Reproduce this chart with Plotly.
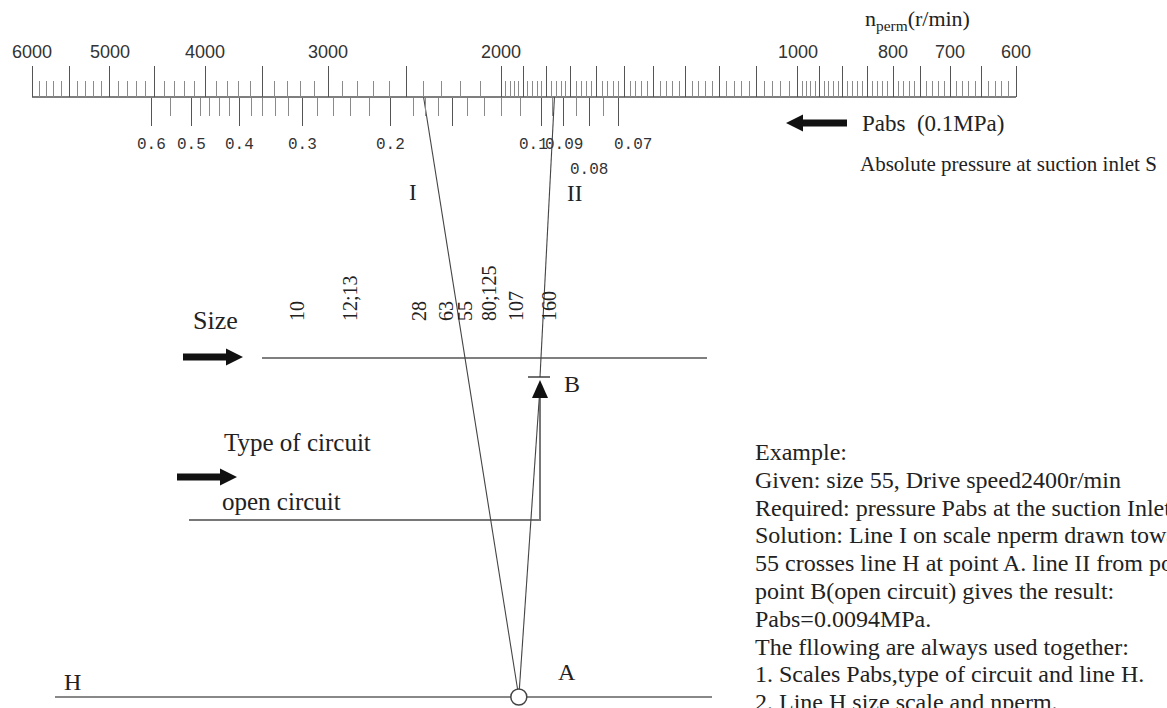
import numpy as np
import plotly.graph_objects as go

W, H = 1167, 708

# ---------------- data ----------------
# n_perm scale (r/min) – logarithmic, decreasing to the right
nperm_labels = [6000, 5000, 4000, 3000, 2000, 1000, 800, 700, 600]
# (low end, high end, minor step, major step)
nperm_segments = [(2000, 6000, 100, 500), (1000, 2000, 20, 100), (600, 1000, 10, 50)]

# Pabs scale (0.1 MPa) – logarithmic, decreasing to the right
pabs_major = [0.6, 0.5, 0.4, 0.3, 0.2, 0.15, 0.1, 0.09, 0.08, 0.07]
pabs_minor = [0.55, 0.48, 0.46, 0.44, 0.42, 0.38, 0.36, 0.34, 0.32, 0.28, 0.26,
              0.24, 0.22, 0.18, 0.17, 0.16, 0.14, 0.13, 0.12, 0.11, 0.095, 0.085, 0.075]
pabs_labels = [0.6, 0.5, 0.4, 0.3, 0.2, 0.1, 0.09, 0.08, 0.07]
pabs_label_text = ["0.6", "0.5", "0.4", "0.3", "0.2", "0.1", "0.09", "0.08", "0.07"]

# Size scale: labels and their reading along the scale
size_labels = ["10", "12;13", "28", "63", "55", "80;125", "107", "160"]
size_reading = [297, 350, 419, 446, 465, 489, 516, 549]
size_extra_ticks = [553]

# Type of circuit scale
circuit_labels = ["open circuit"]
circuit_reading = [540]

# Worked example
ex_size = "55"
ex_speed = 2400
ex_pabs = 0.094

example_lines = [
    "Example:",
    "Given: size 55, Drive speed2400r/min",
    "Required: pressure Pabs at the suction Inlet S",
    "Solution: Line I on scale nperm drawn towards size",
    "55 crosses line H at point A. line II from point A to",
    "point B(open circuit) gives the result:",
    "Pabs=0.0094MPa.",
    "The fllowing are always used together:",
    "1. Scales Pabs,type of circuit and line H.",
    "2. Line H,size scale and nperm.",
]

# ---------------- scale geometry ----------------
Y_TOP = 97      # n_perm / Pabs base line
Y_SIZE = 358    # size line
Y_B = 377
Y_OPEN = 520    # open-circuit line
Y_H = 697       # line H

N_REF, N_PX, N_DEC = 6000, 32, 984      # 6000 at px 32, 984 px per decade
P_REF, P_PX, P_DEC = 0.1, 541, 500      # 0.1 at px 541, 500 px per decade


def n_px(n):
    return N_PX + N_DEC * (np.log10(N_REF) - np.log10(n))


def p_px(p):
    return P_PX - P_DEC * (np.log10(p) - np.log10(P_REF))


x2_range = [np.log10(N_REF) + N_PX / N_DEC, np.log10(N_REF) - (W - N_PX) / N_DEC]
x3_range = [np.log10(P_REF) + P_PX / P_DEC, np.log10(P_REF) - (W - P_PX) / P_DEC]

nperm_major, nperm_minor = set(), set()
for lo, hi, mn, mj in nperm_segments:
    for v in range(lo, hi + 1, mn):
        (nperm_major if v % mj == 0 else nperm_minor).add(v)
nperm_minor -= nperm_major

SERIF = "Liberation Serif"
INK = "#222"
LINE = "#444"

fig = go.Figure()

# base lines
fig.add_trace(go.Scatter(x=[max(nperm_labels), min(nperm_labels)], y=[Y_TOP, Y_TOP],
                         xaxis="x2", yaxis="y", mode="lines",
                         line=dict(color="#555", width=1.6), hoverinfo="skip"))
fig.add_trace(go.Scatter(x=[262, 707], y=[Y_SIZE, Y_SIZE], mode="lines",
                         line=dict(color="#555", width=1.5), hoverinfo="skip"))
fig.add_trace(go.Scatter(x=[189, circuit_reading[0], circuit_reading[0]],
                         y=[Y_OPEN, Y_OPEN, Y_B + 18], mode="lines",
                         line=dict(color="#777", width=2), hoverinfo="skip"))
fig.add_trace(go.Scatter(x=[55, 712], y=[Y_H, Y_H], mode="lines",
                         line=dict(color="#888", width=2.2), hoverinfo="skip"))

# construction lines
si = size_labels.index(ex_size)
x_start = n_px(ex_speed)
x_size = size_reading[si]
ax_A = x_start + (x_size - x_start) * (Y_H - Y_TOP) / (Y_SIZE - Y_TOP)
bx = circuit_reading[0]
fig.add_trace(go.Scatter(x=[x_start, ax_A], y=[Y_TOP, Y_H], mode="lines",
                         line=dict(color=LINE, width=1.1), hoverinfo="skip"))
fig.add_trace(go.Scatter(x=[ax_A, bx], y=[Y_H, Y_B + 10], mode="lines",
                         line=dict(color=LINE, width=1.1), hoverinfo="skip"))
fig.add_trace(go.Scatter(x=[bx, p_px(ex_pabs)], y=[Y_B, Y_TOP], mode="lines",
                         line=dict(color=LINE, width=1.1), hoverinfo="skip"))
fig.add_trace(go.Scatter(x=[ax_A], y=[Y_H], mode="markers",
                         marker=dict(symbol="circle", size=16, color="white",
                                     line=dict(color="#444", width=1.5)),
                         hoverinfo="skip"))

shapes = []


def arrow(x0, x1, y, shaft=3.5, head_len=17, head_half=8.5):
    d = 1 if x1 > x0 else -1
    xb = x1 - d * head_len
    path = (f"M {x0} {y - shaft} L {xb} {y - shaft} L {xb} {y - head_half} "
            f"L {x1} {y} L {xb} {y + head_half} L {xb} {y + shaft} L {x0} {y + shaft} Z")
    return dict(type="path", path=path, xref="x", yref="y",
                fillcolor="#111", line=dict(width=0))


shapes.append(arrow(183, 243, 357))
shapes.append(arrow(177, 237, 477))
shapes.append(arrow(847, 786, 123))
# point B marker
shapes.append(dict(type="line", xref="x", yref="y", x0=bx - 12, x1=bx + 10,
                   y0=Y_B, y1=Y_B, line=dict(color="#333", width=1.4)))
shapes.append(dict(type="path", xref="x", yref="y",
                   path=f"M {bx} {Y_B + 3} L {bx - 8} {Y_B + 21} L {bx + 8} {Y_B + 21} Z",
                   fillcolor="#111", line=dict(width=0)))

ann = []
# n_perm labels
for v in nperm_labels:
    ann.append(dict(x=np.log10(v), y=52, xref="x2", yref="y", text=str(v),
                    showarrow=False, font=dict(family="Liberation Sans", size=18, color="#333")))
# Pabs labels
pabs_dx = {0.1: -8, 0.07: 15}
pabs_dy = {0.08: 170}
for v, t in zip(pabs_labels, pabs_label_text):
    ann.append(dict(x=np.log10(v), y=pabs_dy.get(v, 145), xref="x3", yref="y", text=t,
                    xshift=pabs_dx.get(v, 0), showarrow=False,
                    font=dict(family="Liberation Mono", size=16, color="#333")))
# size labels
for v, t in zip(size_reading, size_labels):
    ann.append(dict(x=v, y=323, xref="x", yref="y", text=t, textangle=-90,
                    xanchor="center", yanchor="bottom", showarrow=False,
                    font=dict(family=SERIF, size=20, color=INK)))


def txt(x, y, t, size, anchor="left", family=SERIF):
    ann.append(dict(x=x, y=y, xref="x", yref="y", text=t, xanchor=anchor, yanchor="middle",
                    showarrow=False, font=dict(family=family, size=size, color=INK)))


txt(863, 20, "n<sub>perm</sub>(r/min)", 22)
txt(860, 123, "Pabs\u00a0 (0.1MPa)", 23)
txt(858, 164, "Absolute pressure at suction inlet S", 21)
txt(413, 192, "I", 23, "center")
txt(574, 193, "II", 23, "center")
txt(215, 320, "Size", 26, "center")
txt(572, 384, "B", 24, "center")
txt(222, 442, "Type of circuit", 25)
txt(220, 501, circuit_labels[0], 25)
txt(567, 672, "A", 24, "center")
txt(72, 682, "H", 24, "center")
for i, line in enumerate(example_lines):
    txt(753, 452 + i * 27.8, line, 24)

axis_off = dict(showgrid=False, zeroline=False, showline=False, showticklabels=False)
fig.update_layout(
    width=W, height=H, margin=dict(l=0, r=0, t=0, b=0),
    paper_bgcolor="white", plot_bgcolor="white", showlegend=False,
    xaxis=dict(range=[0, W], visible=False),
    yaxis=dict(range=[H, 0], visible=False),
    xaxis2=dict(type="log", range=x2_range, overlaying="x", anchor="free",
                position=1 - Y_TOP / H, side="top", ticks="outside",
                tickvals=sorted(nperm_major), ticklen=31, tickwidth=1.3, tickcolor="#555",
                minor=dict(tickvals=sorted(nperm_minor), ticks="outside", ticklen=16,
                           tickwidth=1, tickcolor="#8a8a8a"), **axis_off),
    xaxis3=dict(type="log", range=x3_range, overlaying="x", anchor="free",
                position=1 - Y_TOP / H, side="bottom", ticks="outside",
                tickvals=pabs_major, ticklen=28, tickwidth=1.3, tickcolor="#555",
                minor=dict(tickvals=pabs_minor, ticks="outside", ticklen=18,
                           tickwidth=1, tickcolor="#8a8a8a"), **axis_off),
    xaxis4=dict(range=[0, W], overlaying="x", anchor="free", position=1 - Y_SIZE / H,
                side="top", ticks="outside", tickvals=size_reading + size_extra_ticks,
                ticklen=25, tickwidth=1.2, tickcolor="#444", **axis_off),
    shapes=shapes, annotations=ann,
)

fig.write_html("out.html", config={"displayModeBar": False},
               post_script="document.body.style.margin='0';document.body.style.overflow='hidden';")
